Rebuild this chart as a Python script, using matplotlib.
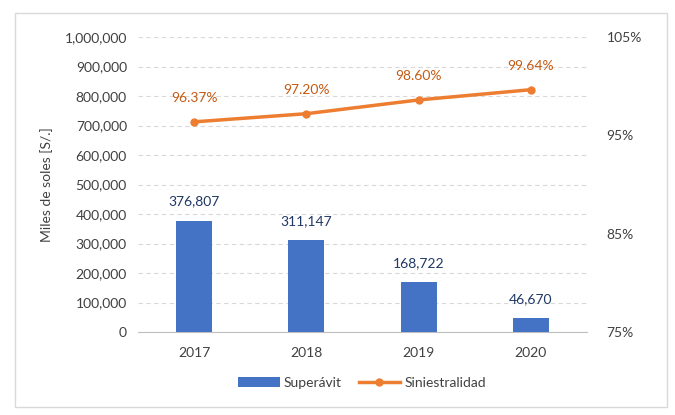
import matplotlib
matplotlib.use("Agg")
import matplotlib.pyplot as plt
import numpy as np
from matplotlib.patches import Rectangle

years = ["2017", "2018", "2019", "2020"]
superavit = [376807, 311147, 168722, 46670]
siniestralidad = [96.37, 97.20, 98.60, 99.64]
left_ticks = list(range(0, 1000001, 100000))
right_ticks = [75, 85, 95, 105]

plt.rcParams['font.family'] = ['Lato', 'DejaVu Sans']

fig = plt.figure(figsize=(6.75, 4.15), dpi=100)
fig.patches.append(Rectangle((15/675, 8/415), 652/675, 394/415, transform=fig.transFigure,
                             fill=False, edgecolor='#d9d9d9', linewidth=1))
ax = fig.add_axes([138/675, (415-332)/415, (587-138)/675, (332-37)/415])
x = np.arange(len(years))
bars = ax.bar(x, superavit, width=0.32, color='#4472C4', label='Superávit', zorder=3)
ax.set_ylim(0, 1000000)
ax.set_xlim(-0.5, 3.5)
ax.set_yticks(left_ticks)
ax.set_yticklabels([f"{v:,}" for v in left_ticks])
ax.set_xticks(x)
ax.set_xticklabels(years)
ax.grid(axis='y', linestyle=(0, (4, 3)), color='#d9d9d9', linewidth=0.8, zorder=0)
for s in ['top', 'right']:
    ax.spines[s].set_visible(False)
ax.spines['left'].set_visible(False)
ax.spines['bottom'].set_color('#bfbfbf')
ax.tick_params(length=0, labelsize=10, colors='#404040', pad=8)
ax.tick_params(axis='x', pad=11)
ax.set_ylabel('Miles de soles [S/.]', fontsize=10, color='#404040', labelpad=8)
for xi, v in zip(x, superavit):
    ax.text(xi, v + 45000, f"{v:,}", ha='center', va='bottom', fontsize=10, color='#1F3864')

ax2 = ax.twinx()
ax2.plot(x, siniestralidad, color='#ED7D31', linewidth=2.5, marker='o', markersize=5,
         label='Siniestralidad', zorder=4)
ax2.set_ylim(75, 105)
ax2.set_yticks(right_ticks)
ax2.set_yticklabels([f"{v}%" for v in right_ticks])
for s in ['top', 'right', 'left', 'bottom']:
    ax2.spines[s].set_visible(False)
ax2.tick_params(length=0, labelsize=10, colors='#404040', pad=14)
for xi, v in zip(x, siniestralidad):
    ax2.text(xi, v + 1.8, f"{v:.2f}%", ha='center', va='bottom', fontsize=10, color='#C55A11')

h1, l1 = ax.get_legend_handles_labels()
h2, l2 = ax2.get_legend_handles_labels()
fig.legend(h1 + h2, l1 + l2, loc='center', bbox_to_anchor=(362/675, 1 - 383/415), ncol=2,
           frameon=False, fontsize=10, handlelength=3, handletextpad=0.3, columnspacing=1.2,
           labelcolor='#404040')

fig.savefig('out.png', dpi=100, facecolor='white')
